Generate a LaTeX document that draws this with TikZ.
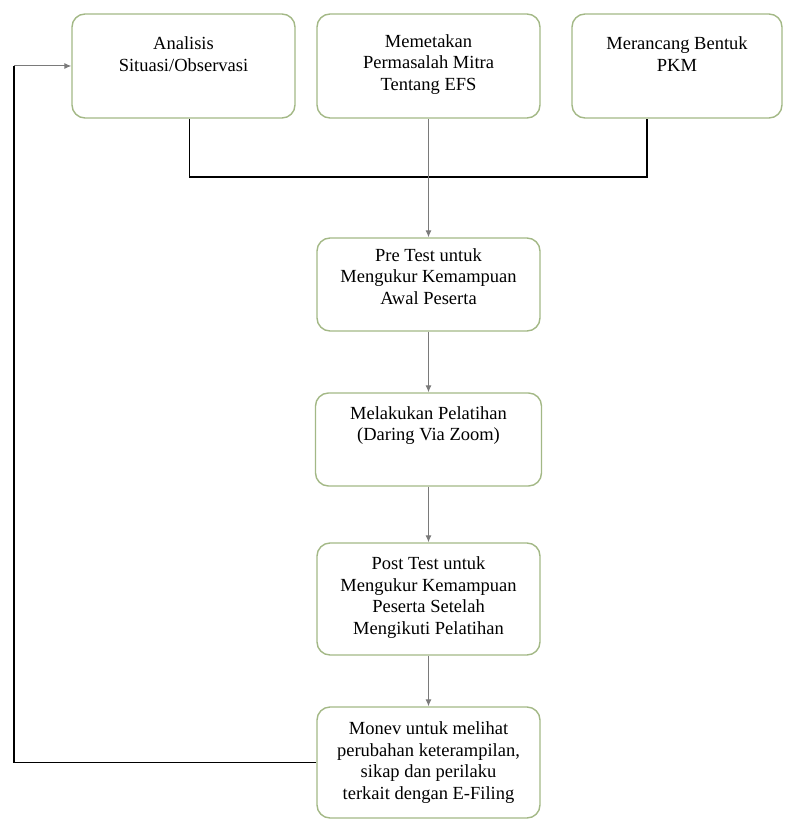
\documentclass[tikz,border=0pt]{standalone}
\usepackage{fontspec}
\setmainfont{Liberation Serif}
\usepackage{tikz}
\usetikzlibrary{arrows.meta}
\usetikzlibrary{positioning}

\begin{document}
\begin{tikzpicture}[x=1pt, y=-1pt]
    \definecolor{box_green}{HTML}{A3B886}
    \definecolor{line_grey}{HTML}{7A7A7A}
    \tikzstyle{every node}=[rectangle, rounded corners = 13pt, draw = box_green,
                            line width = 1.4pt, align = center,
                            font = \fontsize{18.5}{21.5}\selectfont]
    \tikzstyle{flow}=[line_grey, line width = 1pt, -{Latex[length = 7pt, width = 6pt]}]
    \tikzstyle{blackline}=[black, line width = 1.8pt]
    \useasboundingbox (0,0) rectangle (784,821);
    \node[minimum width = 223pt, minimum height = 104pt, text depth = 24pt] (analisis) at (183.5,66) {Analisis\\Situasi/Observasi};
    \node[minimum width = 223pt, minimum height = 104pt, text depth = 7pt] (memetakan) at (428.5,66) {Memetakan\\Permasalah Mitra\\Tentang EFS};
    \node[minimum width = 210pt, minimum height = 104pt, text depth = 24pt] (merancang) at (677,66) {Merancang Bentuk\\PKM};
    \node[minimum width = 223pt, minimum height = 93pt, text depth = 16pt] (pretest) at (428.5,284.5) {Pre Test untuk\\Mengukur Kemampuan\\Awal Peserta};
    \node[minimum width = 226pt, minimum height = 93pt, text depth = 32pt] (pelatihan) at (428.5,439.5) {Melakukan Pelatihan\\(Daring Via Zoom)};
    \node[minimum width = 223pt, minimum height = 112pt, text depth = 7pt] (posttest) at (428.5,599) {Post Test untuk\\Mengukur Kemampuan\\Peserta Setelah\\Mengikuti Pelatihan};
    \node[minimum width = 223pt, minimum height = 111pt] (monev) at (428.5,762.5) {Monev untuk melihat\\perubahan keterampilan,\\sikap dan perilaku\\terkait dengan E-Filing};
    % bracket under the first row
    \draw[blackline] ([xshift=6pt]analisis.south) -- ++(0,58) -| ([xshift=-30pt]merancang.south);
    \draw[flow] (memetakan.south) -- (pretest.north);
    \draw[flow] (pretest.south) -- (pelatihan.north);
    \draw[flow] (pelatihan.south) -- (posttest.north);
    \draw[flow] (posttest.south) -- (monev.north);
    % feedback loop
    \draw[blackline] (monev.west) -| ([xshift=-57pt]analisis.west);
    \draw[flow] ([xshift=-57pt]analisis.west) -- (analisis.west);
\end{tikzpicture}
\end{document}
